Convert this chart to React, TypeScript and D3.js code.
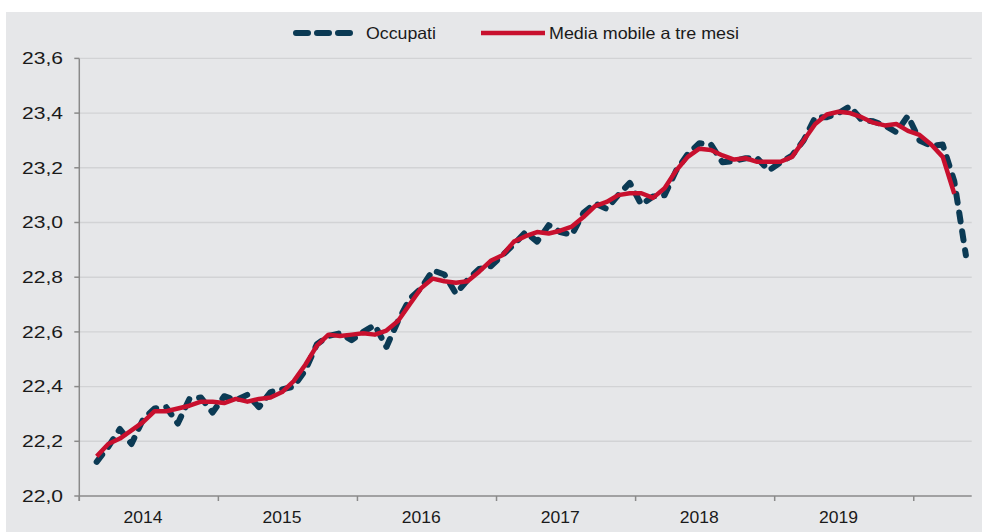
import React from "react";
import * as d3 from "d3";

const years = [2014, 2015, 2016, 2017, 2018, 2019, 2020];
const monthsPerYear = 12;
const lastYearMonths = 5;

const months: string[] = [];
years.forEach((y, yi) => {
  const n = yi === years.length - 1 ? lastYearMonths : monthsPerYear;
  for (let m = 1; m <= n; m++) months.push(`${y}-${String(m).padStart(2, "0")}`);
});

const yearLabels = ["2014", "2015", "2016", "2017", "2018", "2019"];
const yTicks = [22.0, 22.2, 22.4, 22.6, 22.8, 23.0, 23.2, 23.4, 23.6];

const occupati: (number | null)[] = [
  null, 22.125, 22.18, 22.245, 22.19, 22.28, 22.32, 22.325, 22.265, 22.355, 22.36, 22.305,
  22.365, 22.35, 22.37, 22.325, 22.38, 22.39, 22.40, 22.46, 22.555, 22.585, 22.595, 22.57,
  22.60, 22.625, 22.545, 22.64, 22.72, 22.76, 22.825, 22.81, 22.74, 22.79, 22.83, 22.84,
  22.88, 22.92, 22.965, 22.93, 22.99, 22.965, 22.955, 23.035, 23.07, 23.05, 23.10, 23.145,
  23.065, 23.095, 23.10, 23.19, 23.25, 23.29, 23.285, 23.22, 23.225, 23.235, 23.235, 23.19,
  23.22, 23.245, 23.30, 23.385, 23.385, 23.40, 23.425, 23.375, 23.37, 23.355, 23.33, 23.39,
  23.30, 23.28, 23.285, 23.15, 22.88,
];

const mediaMobile: (number | null)[] = [
  null, 22.145, 22.19, 22.21, 22.24, 22.27, 22.31, 22.31, 22.32, 22.33, 22.345, 22.345,
  22.34, 22.355, 22.345, 22.355, 22.36, 22.38, 22.42, 22.48, 22.55, 22.59, 22.585, 22.59,
  22.595, 22.59, 22.605, 22.64, 22.70, 22.76, 22.795, 22.785, 22.78, 22.785, 22.82, 22.86,
  22.88, 22.93, 22.95, 22.965, 22.96, 22.97, 22.985, 23.02, 23.06, 23.075, 23.10, 23.107,
  23.107, 23.09, 23.125, 23.19, 23.24, 23.27, 23.265, 23.245, 23.23, 23.235, 23.222, 23.222,
  23.222, 23.24, 23.30, 23.36, 23.395, 23.405, 23.40, 23.385, 23.365, 23.355, 23.36, 23.335,
  23.32, 23.285, 23.24, 23.105, null,
];

const W = 982;
const H = 532;
const left = 79.3;
const right = 971.7;
const top = 58.4;
const bottom = 496;

const NAVY = "#0b3a54";
const RED = "#c8102e";
const FONT = "'Liberation Sans', Arial, sans-serif";
const TXT = "#1a1a1a";
const FS = 16.5;

export default function App() {
  const x = d3.scaleBand<string>().domain(months).range([left, right]).paddingInner(0).paddingOuter(0);
  const bw = x.bandwidth();
  const cx = (i: number) => (x(months[i]) as number) + bw / 2;
  const y = d3.scaleLinear().domain([22.0, 23.6]).range([bottom, top]);

  const line = d3
    .line<number | null>()
    .defined((d) => d != null)
    .x((_, i) => cx(i))
    .y((d) => y(d as number));

  const yearTickIdx = d3.range(0, months.length, 12);

  return (
    <svg width={W} height={H} style={{ position: "absolute", left: 0, top: 0 }} fontFamily={FONT}>
      <rect x={6} y={12} width={W - 6} height={H - 12} fill="#e6e7e9" />
      {yTicks.slice(1).map((t) => (
        <line key={t} x1={left} x2={right} y1={y(t)} y2={y(t)} stroke="#d2d3d5" strokeWidth={1.4} />
      ))}
      {/* y axis */}
      <line x1={left} x2={left} y1={top} y2={bottom + 5} stroke="#8a8a8a" strokeWidth={1.5} />
      {yTicks.map((t) => (
        <g key={"yt" + t}>
          <line x1={left - 5} x2={left} y1={y(t)} y2={y(t)} stroke="#8a8a8a" strokeWidth={1.5} />
          <text x={22} y={y(t)} dy="0.35em" fontSize={FS} fill={TXT} textLength={41} lengthAdjust="spacingAndGlyphs">
            {t.toFixed(1).replace(".", ",")}
          </text>
        </g>
      ))}
      {/* x axis */}
      <line x1={left} x2={right} y1={bottom} y2={bottom} stroke="#8a8a8a" strokeWidth={1.5} />
      {yearTickIdx.map((i) => (
        <line key={"xt" + i} x1={x(months[i])} x2={x(months[i])} y1={bottom} y2={bottom + 5} stroke="#8a8a8a" strokeWidth={1.5} />
      ))}
      {yearLabels.map((lab, k) => (
        <text key={lab} x={cx(k * 12 + 5) - 19.5} y={517} dy="0.35em" fontSize={FS} fill={TXT} textLength={39} lengthAdjust="spacingAndGlyphs">
          {lab}
        </text>
      ))}
      {/* series */}
      <path d={line(occupati) || ""} fill="none" stroke={NAVY} strokeWidth={6} strokeDasharray="9,10" strokeLinecap="round" strokeLinejoin="round" />
      <path d={line(mediaMobile) || ""} fill="none" stroke={RED} strokeWidth={4.5} strokeLinejoin="round" />
      {/* legend */}
      <line x1={296} x2={356} y1={33} y2={33} stroke={NAVY} strokeWidth={6} strokeDasharray="12,9" strokeLinecap="round" />
      <text x={366} y={33} dy="0.35em" fontSize={FS} fill={TXT} textLength={70} lengthAdjust="spacingAndGlyphs">Occupati</text>
      <line x1={481} x2={545} y1={33} y2={33} stroke={RED} strokeWidth={4.5} />
      <text x={549} y={33} dy="0.35em" fontSize={FS} fill={TXT} textLength={190} lengthAdjust="spacingAndGlyphs">Media mobile a tre mesi</text>
    </svg>
  );
}
